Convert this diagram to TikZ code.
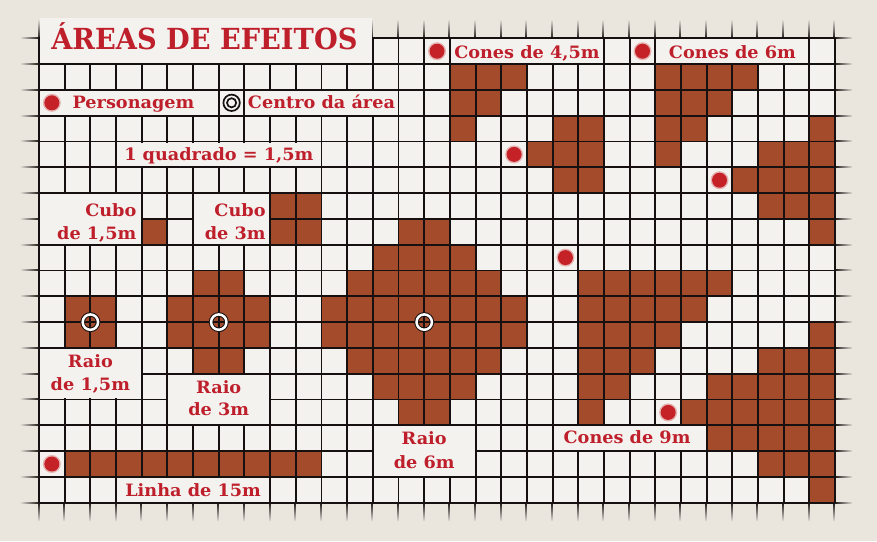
\documentclass[tikz,border=0pt]{standalone}
\usepackage{fontspec}
\setmainfont{DejaVu Serif}
\usetikzlibrary{fadings}
\definecolor{bgc}{HTML}{EAE5DD}
\definecolor{cellc}{HTML}{F4F2EF}
\definecolor{fillc}{HTML}{A44B2C}
\definecolor{txtc}{HTML}{BE1F2B}
\definecolor{dotc}{HTML}{C42227}
\definecolor{linec}{HTML}{161010}
\tikzset{
  gridline/.style={draw=linec, line width=1.9pt},
  lbl/.style={text=txtc, font=\bfseries\fontsize{17}{19}\selectfont, inner sep=0pt, anchor=base, xscale=1.04},
  ttl/.style={text=txtc, font=\bfseries\fontsize{29}{32}\selectfont, inner sep=0pt, anchor=base, xscale=0.94},
  pdot/.style={fill=dotc},
  halo/.style={fill=dotc, opacity=0.3}
}
\begin{document}
\begin{tikzpicture}[x=25.68pt, y=-25.8pt]
\useasboundingbox (-1.5187,-1.4845) rectangle (32.632,19.4845);
\fill[bgc] (-1.5187,-1.4845) rectangle (32.632,19.4845);
\fill[cellc] (0,0) rectangle (31,18);
% filled cells: col/row
\foreach \c/\r in {
  16/1,17/1,18/1,16/2,17/2,16/3,
  19/4,20/3,20/4,20/5,21/3,21/4,21/5,
  24/1,25/1,26/1,27/1,24/2,25/2,26/2,24/3,25/3,24/4,
  27/5,28/4,28/5,28/6,29/4,29/5,29/6,30/3,30/4,30/5,30/6,30/7,
  4/7,9/6,10/6,9/7,10/7,
  1/10,2/10,1/11,2/11,
  6/9,7/9,5/10,6/10,7/10,8/10,5/11,6/11,7/11,8/11,6/12,7/12,
  14/7,15/7,13/8,14/8,15/8,16/8,
  12/9,13/9,14/9,15/9,16/9,17/9,
  11/10,12/10,13/10,14/10,15/10,16/10,17/10,18/10,
  11/11,12/11,13/11,14/11,15/11,16/11,17/11,18/11,
  12/12,13/12,14/12,15/12,16/12,17/12,
  13/13,14/13,15/13,16/13,14/14,15/14,
  1/16,2/16,3/16,4/16,5/16,6/16,7/16,8/16,9/16,10/16,
  21/9,22/9,23/9,24/9,25/9,26/9,
  21/10,22/10,23/10,24/10,25/10,
  21/11,22/11,23/11,24/11,
  21/12,22/12,23/12,21/13,22/13,21/14,
  25/14,26/13,26/14,26/15,27/13,27/14,27/15,
  28/12,28/13,28/14,28/15,28/16,29/12,29/13,29/14,29/15,29/16,
  30/11,30/12,30/13,30/14,30/15,30/16,30/17}
  \fill[fillc] (\c,\r) rectangle ++(1,1);
% grid
\foreach \i in {0,...,31} \draw[gridline] (\i,0) -- (\i,18);
\foreach \j in {0,...,18} \draw[gridline] (0,\j) -- (31,\j);
% stubs
\draw[gridline, path fading=west] foreach \j in {0,...,18} {(-0.72,\j) -- (0,\j)};
\draw[gridline, path fading=east] foreach \j in {0,...,18} {(31,\j) -- (31.66,\j)};
\draw[gridline, path fading=south] foreach \i in {0,...,31} {(\i,18) -- (\i,18.7)};
\draw[gridline, path fading=north] (0,-0.7) -- (0,0) foreach \i in {13,...,31} {(\i,-0.7) -- (\i,0)};
% label patches
\fill[cellc] (0.04,-0.8) rectangle (12.96,0.96);
\foreach \a/\b/\c/\d in {0/2/6/2, 8/2/13/2, 3/4/10/4, 16/0/21/0, 24/0/29/0,
  0/6/3/7, 6/6/8/7, 0/12/3/13, 5/13/8/14, 13/15/16/16, 20/15/25/15, 3/17/8/17}
  \fill[cellc] (\a+0.04,\b+0.04) rectangle (\c+0.96,\d+0.96);
% texts
\node[ttl] (title) at (6.44,0.453) {ÁREAS DE EFEITOS};
\node[lbl] (c45) at (19,0.775) {Cones de 4,5m};
\node[lbl] (c6) at (27,0.775) {Cones de 6m};
\node[lbl] (pers) at (3.68,2.713) {Personagem};
\node[lbl] (centro) at (11,2.713) {Centro da área};
\node[lbl] (quad) at (7,4.717) {1 quadrado = 1,5m};
\node[lbl, anchor=base east] (cubo1a) at (3.80,6.888) {Cubo};
\node[lbl, anchor=base east] (cubo1b) at (3.80,7.779) {de 1,5m};
\node[lbl, anchor=base east] (cubo3a) at (8.83,6.888) {Cubo};
\node[lbl, anchor=base east] (cubo3b) at (8.83,7.779) {de 3m};
\node[lbl] (r1a) at (2,12.75) {Raio};
\node[lbl] (r1b) at (2,13.66) {de 1,5m};
\node[lbl] (r3a) at (7,13.76) {Raio};
\node[lbl] (r3b) at (7,14.63) {de 3m};
\node[lbl] (r6a) at (15,15.76) {Raio};
\node[lbl] (r6b) at (15,16.67) {de 6m};
\node[lbl] (c9) at (22.9,15.70) {Cones de 9m};
\node[lbl] (linha) at (6,17.74) {Linha de 15m};
% character dots
\foreach \u/\v in {0.5/2.5, 15.5/0.5, 18.5/4.5, 23.5/0.5, 26.5/5.5, 20.5/8.5, 24.5/14.5, 0.5/16.5} {
  \fill[halo] (\u,\v) circle (9pt);
  \fill[pdot] (\u,\v) circle (7.5pt);
}
% centre symbol legend
\draw[linec, line width=1.7pt] (7.5,2.5) circle (8.2pt);
\draw[linec, line width=1.7pt] (7.5,2.5) circle (4.6pt);
% area centres
\foreach \u in {2,7,15} {
  \draw[linec, line width=4.5pt] (\u,11) circle (7.7pt);
  \draw[white, line width=2.5pt] (\u,11) circle (7.7pt);
}
\end{tikzpicture}
\end{document}
